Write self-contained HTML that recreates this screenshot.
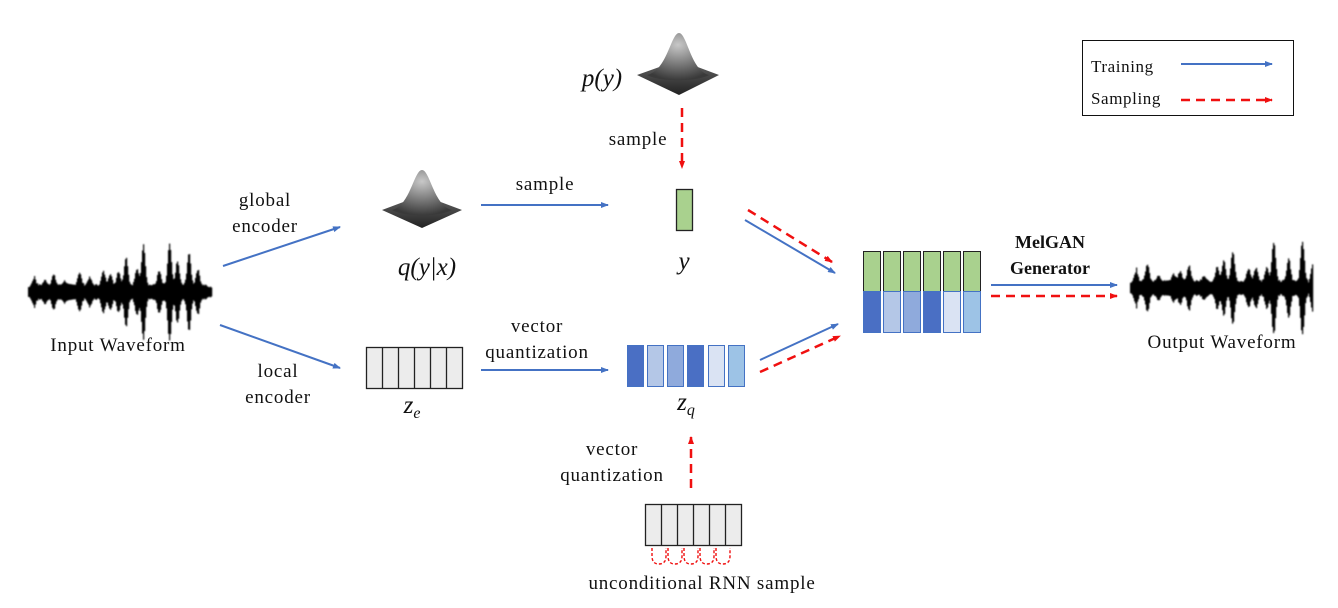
<!DOCTYPE html>
<html><head><meta charset="utf-8"><style>
html,body{margin:0;padding:0;background:#fff;}
svg{display:block;}
text{font-family:"Liberation Serif",serif;fill:#111;}
.l{font-size:19px;letter-spacing:0.8px;}
.m{font-size:25px;font-style:italic;}
</style></head><body>
<svg id="s" width="1338" height="608" viewBox="0 0 1338 608" xmlns="http://www.w3.org/2000/svg">
<defs>
<marker id="ab" markerWidth="8" markerHeight="6" refX="7" refY="3" orient="auto" markerUnits="userSpaceOnUse"><path d="M0,0 L8,3 L0,6z" fill="#4472C4"/></marker>
<marker id="ar" markerWidth="8" markerHeight="6" refX="7" refY="3" orient="auto" markerUnits="userSpaceOnUse"><path d="M0,0 L8,3 L0,6z" fill="#f01010"/></marker>
<radialGradient id="bell" cx="0.5" cy="0.25" r="0.75"><stop offset="0" stop-color="#c8c8c8"/><stop offset="1" stop-color="#3a3a3a"/></radialGradient>
<linearGradient id="plane" x1="0" y1="0" x2="0" y2="1"><stop offset="0" stop-color="#666"/><stop offset="1" stop-color="#222"/></linearGradient>
<filter id="bl"><feGaussianBlur stdDeviation="0.8"/></filter>
</defs>
<g id="wave1" filter="url(#bl)"></g><g id="wave2" filter="url(#bl)"></g>

<g transform="translate(382,170)">
<path d="M0,40 L40,25 L80,40 L40,58z" fill="url(#plane)"/>
<path d="M10,40 C28,36 32,0 40,0 C48,0 52,36 70,40 C58,47 22,47 10,40z" fill="url(#bell)"/>
</g>
<g transform="translate(637,33)">
<path d="M0,42 L42,27 L82,42 L42,62z" fill="url(#plane)"/>
<path d="M10,42 C30,38 34,0 42,0 C50,0 54,38 72,42 C60,49 22,49 10,42z" fill="url(#bell)"/>
</g>

<text class="l" x="118" y="351" text-anchor="middle">Input Waveform</text>
<text class="l" x="265" y="206" text-anchor="middle">global</text>
<text class="l" x="265" y="232" text-anchor="middle">encoder</text>
<text class="l" x="278" y="377" text-anchor="middle">local</text>
<text class="l" x="278" y="403" text-anchor="middle">encoder</text>
<text class="m" x="427" y="275" text-anchor="middle">q(y|x)</text>
<text class="l" x="545" y="190" text-anchor="middle">sample</text>
<text class="m" x="602" y="86" text-anchor="middle">p(y)</text>
<text class="l" x="638" y="145" text-anchor="middle">sample</text>
<text class="m" x="684" y="269" text-anchor="middle">y</text>
<text class="l" x="537" y="332" text-anchor="middle">vector</text>
<text class="l" x="537" y="358" text-anchor="middle">quantization</text>
<text class="m" x="412" y="413" text-anchor="middle">z<tspan font-size="16" dy="5">e</tspan></text>
<text class="m" x="686" y="410" text-anchor="middle">z<tspan font-size="16" dy="5">q</tspan></text>
<text class="l" x="612" y="455" text-anchor="middle">vector</text>
<text class="l" x="612" y="481" text-anchor="middle">quantization</text>
<text class="l" x="702" y="589" text-anchor="middle">unconditional RNN sample</text>
<text x="1050" y="248" text-anchor="middle" font-size="18" font-weight="bold">MelGAN</text>
<text x="1050" y="274" text-anchor="middle" font-size="18" font-weight="bold">Generator</text>
<text class="l" x="1222" y="348" text-anchor="middle">Output Waveform</text>

<rect x="1082.5" y="40.5" width="211" height="75" fill="#fff" stroke="#111" stroke-width="1"/>
<text x="1091" y="72" font-size="17" letter-spacing="0.6">Training</text>
<text x="1091" y="104" font-size="17" letter-spacing="0.6">Sampling</text>
<line x1="1181" y1="64" x2="1272" y2="64" stroke="#4472C4" stroke-width="2" marker-end="url(#ab)"/>
<line x1="1181" y1="100" x2="1272" y2="100" stroke="#f01010" stroke-width="2.5" stroke-dasharray="9,6" marker-end="url(#ar)"/>

<line x1="223" y1="266" x2="340" y2="227" stroke="#4472C4" stroke-width="2" marker-end="url(#ab)"/>
<line x1="220" y1="325" x2="340" y2="368" stroke="#4472C4" stroke-width="2" marker-end="url(#ab)"/>
<line x1="481" y1="205" x2="608" y2="205" stroke="#4472C4" stroke-width="2" marker-end="url(#ab)"/>
<line x1="481" y1="370" x2="608" y2="370" stroke="#4472C4" stroke-width="2" marker-end="url(#ab)"/>
<line x1="682" y1="108" x2="682" y2="168" stroke="#f01010" stroke-width="2.5" stroke-dasharray="9,6" marker-end="url(#ar)"/>
<line x1="691" y1="488" x2="691" y2="437" stroke="#f01010" stroke-width="2.5" stroke-dasharray="9,6" marker-end="url(#ar)"/>
<line x1="745" y1="220" x2="835" y2="273" stroke="#4472C4" stroke-width="2" marker-end="url(#ab)"/>
<line x1="748" y1="210" x2="832" y2="262" stroke="#f01010" stroke-width="2.5" stroke-dasharray="9,6" marker-end="url(#ar)"/>
<line x1="760" y1="360" x2="838" y2="324" stroke="#4472C4" stroke-width="2" marker-end="url(#ab)"/>
<line x1="760" y1="372" x2="840" y2="336" stroke="#f01010" stroke-width="2.5" stroke-dasharray="9,6" marker-end="url(#ar)"/>
<line x1="991" y1="285" x2="1117" y2="285" stroke="#4472C4" stroke-width="2" marker-end="url(#ab)"/>
<line x1="991" y1="296" x2="1117" y2="296" stroke="#f01010" stroke-width="2.5" stroke-dasharray="9,6" marker-end="url(#ar)"/>

<rect x="676.5" y="189.5" width="16" height="41" fill="#a9d18e" stroke="#222" stroke-width="1.3"/>

<g fill="#ececec" stroke="#222" stroke-width="1.3">
<rect x="366.5" y="347.5" width="96" height="41"/>
<line x1="382.5" y1="347.5" x2="382.5" y2="388.5"/><line x1="398.5" y1="347.5" x2="398.5" y2="388.5"/><line x1="414.5" y1="347.5" x2="414.5" y2="388.5"/><line x1="430.5" y1="347.5" x2="430.5" y2="388.5"/><line x1="446.5" y1="347.5" x2="446.5" y2="388.5"/>
<rect x="645.5" y="504.5" width="96" height="41"/>
<line x1="661.5" y1="504.5" x2="661.5" y2="545.5"/><line x1="677.5" y1="504.5" x2="677.5" y2="545.5"/><line x1="693.5" y1="504.5" x2="693.5" y2="545.5"/><line x1="709.5" y1="504.5" x2="709.5" y2="545.5"/><line x1="725.5" y1="504.5" x2="725.5" y2="545.5"/>
</g>
<g fill="none" stroke="#f01010" stroke-width="1.4" stroke-dasharray="3,2">
<path d="M652,548 v8 q0,8 7,8 q7,0 7,-8 v-8"/>
<path d="M668,548 v8 q0,8 7,8 q7,0 7,-8 v-8"/>
<path d="M684,548 v8 q0,8 7,8 q7,0 7,-8 v-8"/>
<path d="M700,548 v8 q0,8 7,8 q7,0 7,-8 v-8"/>
<path d="M716,548 v8 q0,8 7,8 q7,0 7,-8 v-8"/>
</g>

<g stroke="#4472C4" stroke-width="1">
<rect x="627.5" y="345.5" width="16" height="41" fill="#4a6fc4"/>
<rect x="647.5" y="345.5" width="16" height="41" fill="#b4c7e7"/>
<rect x="667.5" y="345.5" width="16" height="41" fill="#8faadc"/>
<rect x="687.5" y="345.5" width="16" height="41" fill="#4a6fc4"/>
<rect x="708.5" y="345.5" width="16" height="41" fill="#dae3f3"/>
<rect x="728.5" y="345.5" width="16" height="41" fill="#9dc3e6"/>
</g>
<g stroke-width="1">
<g fill="#a9d18e" stroke="#222">
<rect x="863.5" y="251.5" width="17" height="40"/><rect x="883.5" y="251.5" width="17" height="40"/><rect x="903.5" y="251.5" width="17" height="40"/><rect x="923.5" y="251.5" width="17" height="40"/><rect x="943.5" y="251.5" width="17" height="40"/><rect x="963.5" y="251.5" width="17" height="40"/>
</g>
<g stroke="#4472C4">
<rect x="863.5" y="291.5" width="17" height="41" fill="#4a6fc4"/>
<rect x="883.5" y="291.5" width="17" height="41" fill="#b4c7e7"/>
<rect x="903.5" y="291.5" width="17" height="41" fill="#8faadc"/>
<rect x="923.5" y="291.5" width="17" height="41" fill="#4a6fc4"/>
<rect x="943.5" y="291.5" width="17" height="41" fill="#dae3f3"/>
<rect x="963.5" y="291.5" width="17" height="41" fill="#9dc3e6"/>
</g>
</g>
</svg>
<script>
(function(){
var ns="http://www.w3.org/2000/svg";
function wave(id,x0,x1,cy,seed){
 var g=document.getElementById(id),s=seed;
 function r(){s=(s*9301+49297)%233280;return s/233280;}
 var bursts=[];
 for(var b=x0+5;b<x1;b+=6+r()*10){
  var t=(b-x0)/(x1-x0);
  bursts.push([b,(t>0.5?10+r()*32:3+r()*16)]);
 }
 for(var x=x0;x<x1;x+=1){
  var env=6+2*r();
  for(var i=0;i<bursts.length;i++){
   var d=(x-bursts[i][0])/2.5;
   env+=bursts[i][1]*Math.exp(-d*d);
  }
  var t2=(x-x0)/(x1-x0);
  if(t2<0.03||t2>0.97) env*=0.7;
  var l=document.createElementNS(ns,"rect");
  l.setAttribute("x",x);l.setAttribute("width",1.2);
  l.setAttribute("y",cy-env);l.setAttribute("height",2*env);
  l.setAttribute("fill","#000");
  g.appendChild(l);
 }
}
wave("wave1",28,212,292,7);
wave("wave2",1130,1313,288,13);
})();
</script>
</body></html>
